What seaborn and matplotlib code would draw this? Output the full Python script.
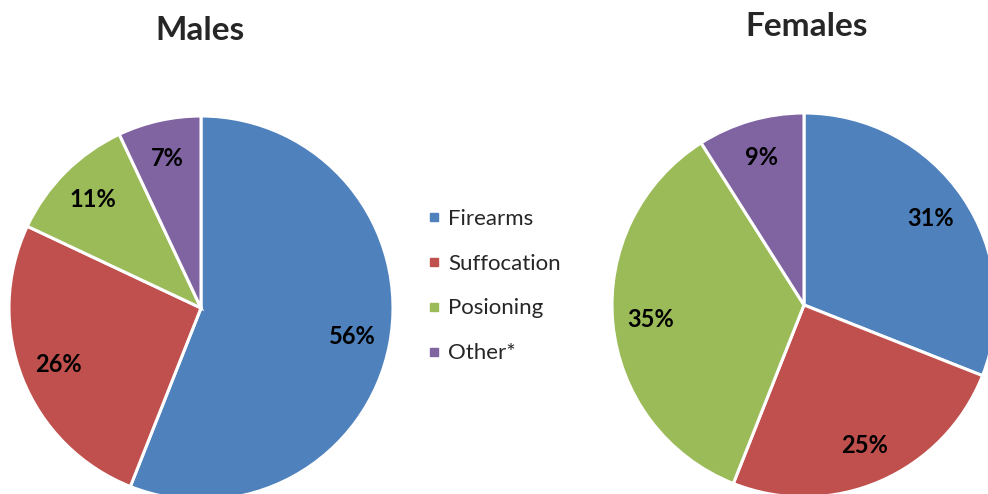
import matplotlib
matplotlib.use('Agg')
import matplotlib.pyplot as plt
from matplotlib.lines import Line2D
import seaborn as sns

sns.set_theme(style='white')
plt.rcParams['font.family'] = ['Lato', 'DejaVu Sans']

categories = ['Firearms', 'Suffocation', 'Posioning', 'Other*']
males = [56, 26, 11, 7]
females = [31, 25, 35, 9]
colors = sns.color_palette(['#4F81BD', '#C0504D', '#9BBB59', '#8064A2'])

W, H = 988, 494
fig = plt.figure(figsize=(W / 100, H / 100), dpi=100)
R = 192  # pie radius in pixels


def pie_axes(cx, cy):
    # cx, cy: pie centre in pixels from top-left
    return fig.add_axes([(cx - R) / W, (H - cy - R) / H, 2 * R / W, 2 * R / H])


def draw(ax, vals):
    wedges, texts, autotexts = ax.pie(
        vals, colors=colors, startangle=90, counterclock=False,
        autopct='%d%%', pctdistance=0.8,
        wedgeprops=dict(edgecolor='white', linewidth=2.2),
        textprops=dict(fontsize=17, fontweight='bold', color='black'))
    ax.set_xlim(-1, 1)
    ax.set_ylim(-1, 1)
    ax.set_aspect('equal')
    for w in wedges:
        w.set_clip_on(False)
    return wedges


ax1 = pie_axes(201, 308)
wedges = draw(ax1, males)
ax2 = pie_axes(804, 305)
draw(ax2, females)

fig.text(200 / W, 1 - 30 / H, 'Males', ha='center', va='center',
         fontsize=24, fontweight='bold')
fig.text(807 / W, 1 - 26 / H, 'Females', ha='center', va='center',
         fontsize=24, fontweight='bold')

handles = [Line2D([], [], marker='s', linestyle='none', markersize=6,
                  markerfacecolor=c, markeredgecolor=c) for c in colors]
fig.legend(handles, categories, loc='center left',
           bbox_to_anchor=(418 / W, 1 - 286 / H), frameon=False,
           fontsize=16, handlelength=0.6, handletextpad=0.35,
           labelspacing=1.12, borderaxespad=0)

fig.savefig('out.png', dpi=100)
